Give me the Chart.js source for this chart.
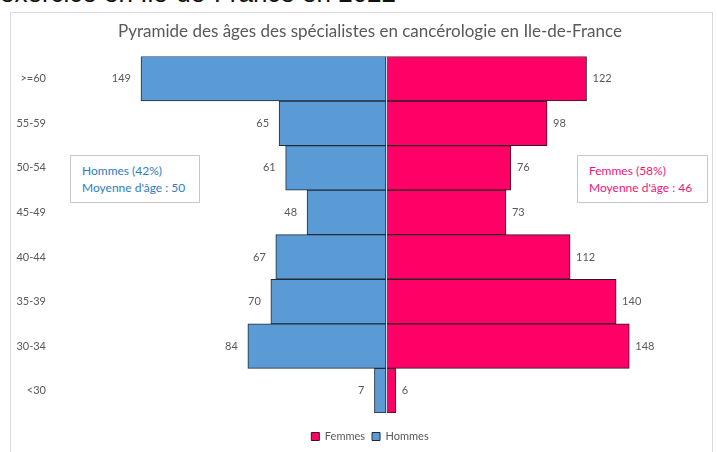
<!DOCTYPE html>
<html>
<head>
<meta charset="utf-8">
<script src="https://cdn.jsdelivr.net/npm/chart.js@4/dist/chart.umd.min.js"></script>
<style>
  body { margin: 0; background: #fff; width: 717px; height: 452px; overflow: hidden; position: relative; font-family: Lato, sans-serif; }
  #heading { position: absolute; left: 0; top: -22px; font: 26px "Liberation Sans", Arial, sans-serif; color: #111; white-space: nowrap; }
  #frame { position: absolute; left: 10px; top: 12px; width: 703px; height: 460px; border: 1px solid #d9d9d9; box-sizing: border-box; }
  #wrap { position: absolute; left: 0; top: 0; width: 717px; height: 452px; }
  .note { position: absolute; border: 1px solid #c8c8c8; background: #fff; font: 12px Lato, sans-serif; line-height: 17px; padding: 6px 0 0 11px; box-sizing: border-box; white-space: nowrap; }
  #noteH { left: 70px; top: 155px; width: 130px; height: 48px; color: #2e7dc4; }
  #noteF { left: 577px; top: 155px; width: 131px; height: 48px; color: #f0157a; }
</style>
</head>
<body>
<div id="heading">exercice en Ile-de-France en 2022</div>
<div id="frame"></div>
<div id="wrap"><canvas id="pyramid" width="717" height="452"></canvas></div>
<div class="note" id="noteH">Hommes (42%)<br>Moyenne d'âge : 50</div>
<div class="note" id="noteF">Femmes (58%)<br>Moyenne d'âge : 46</div>
<script>
const ageGroups = ['>=60', '55-59', '50-54', '45-49', '40-44', '35-39', '30-34', '<30'];
const femmes = [122, 98, 76, 73, 112, 140, 148, 6];
const hommes = [149, 65, 61, 48, 67, 70, 84, 7];

const chartTitle = "Pyramide des âges des spécialistes en cancérologie en Ile-de-France";

// y labels sit far left of the plot, drawn here so they are not clipped to the axis box
const ageLabels = {
    id: 'ageLabels',
    afterDraw(chart) {
        const ctx = chart.ctx;
        const y = chart.scales.y;
        ctx.save();
        ctx.font = '11px Lato, sans-serif';
        ctx.fillStyle = '#595959';
        ctx.textAlign = 'right';
        ctx.textBaseline = 'middle';
        y.ticks.forEach((t, i) => {
            ctx.fillText(y.getLabelForValue(t.value), 46, y.getPixelForTick(i));
        });
        ctx.restore();
    }
};

const valueLabels = {
    id: 'valueLabels',
    afterDatasetsDraw(chart) {
        const ctx = chart.ctx;
        ctx.save();
        ctx.font = '11px Lato, sans-serif';
        ctx.fillStyle = '#595959';
        ctx.textBaseline = 'middle';
        chart.data.datasets.forEach((ds, i) => {
            const meta = chart.getDatasetMeta(i);
            meta.data.forEach((bar, j) => {
                const v = ds.data[j];
                if (v < 0) {
                    ctx.textAlign = 'right';
                    ctx.fillText(Math.abs(v), bar.x - 10, bar.y);
                } else {
                    ctx.textAlign = 'left';
                    ctx.fillText(v, bar.x + 6, bar.y);
                }
            });
        });
        // light line at the middle
        const x0 = chart.scales.x.getPixelForValue(0);
        ctx.strokeStyle = '#d6e4f2';
        ctx.lineWidth = 1;
        ctx.beginPath();
        ctx.moveTo(x0 + 0.5, chart.chartArea.top);
        ctx.lineTo(x0 + 0.5, chart.chartArea.bottom);
        ctx.stroke();
        ctx.restore();
    }
};

new Chart(document.getElementById('pyramid'), {
    type: 'bar',
    data: {
        labels: ageGroups,
        datasets: [{
            label: 'Femmes',
            data: femmes,
            backgroundColor: '#ff0066',
            borderColor: '#2b1a22',
            borderWidth: 1,
            borderSkipped: false
        }, {
            label: 'Hommes',
            data: hommes.map(v => -v),
            backgroundColor: '#5b9bd5',
            borderColor: '#1f2b38',
            borderWidth: 1,
            borderSkipped: false
        }]
    },
    options: {
        indexAxis: 'y',
        responsive: false,
        animation: false,
        layout: { padding: { left: 30, right: 7, top: 0, bottom: 0 } },
        datasets: { bar: { barPercentage: 1, categoryPercentage: 1 } },
        scales: {
            x: {
                stacked: true,
                min: -186.1,
                max: 197.1,
                grid: { display: false, drawTicks: false },
                border: { display: false },
                ticks: { display: false },
                afterFit(scale) { scale.height = 11; }
            },
            y: {
                stacked: true,
                grid: { display: false, drawTicks: false },
                border: { display: false },
                ticks: { display: false },
                afterFit(scale) { scale.width = 50; }
            }
        },
        plugins: {
            title: {
                display: true,
                text: chartTitle,
                color: '#595959',
                font: { family: 'Lato', size: 17, weight: 'normal' },
                padding: { top: 21, bottom: 15 }
            },
            legend: {
                position: 'bottom',
                labels: {
                    boxWidth: 8,
                    boxHeight: 8,
                    color: '#595959',
                    font: { family: 'Lato', size: 11 },
                    padding: 7
                }
            },
            tooltip: { enabled: false }
        }
    },
    plugins: [valueLabels, ageLabels]
});
</script>
</body>
</html>
